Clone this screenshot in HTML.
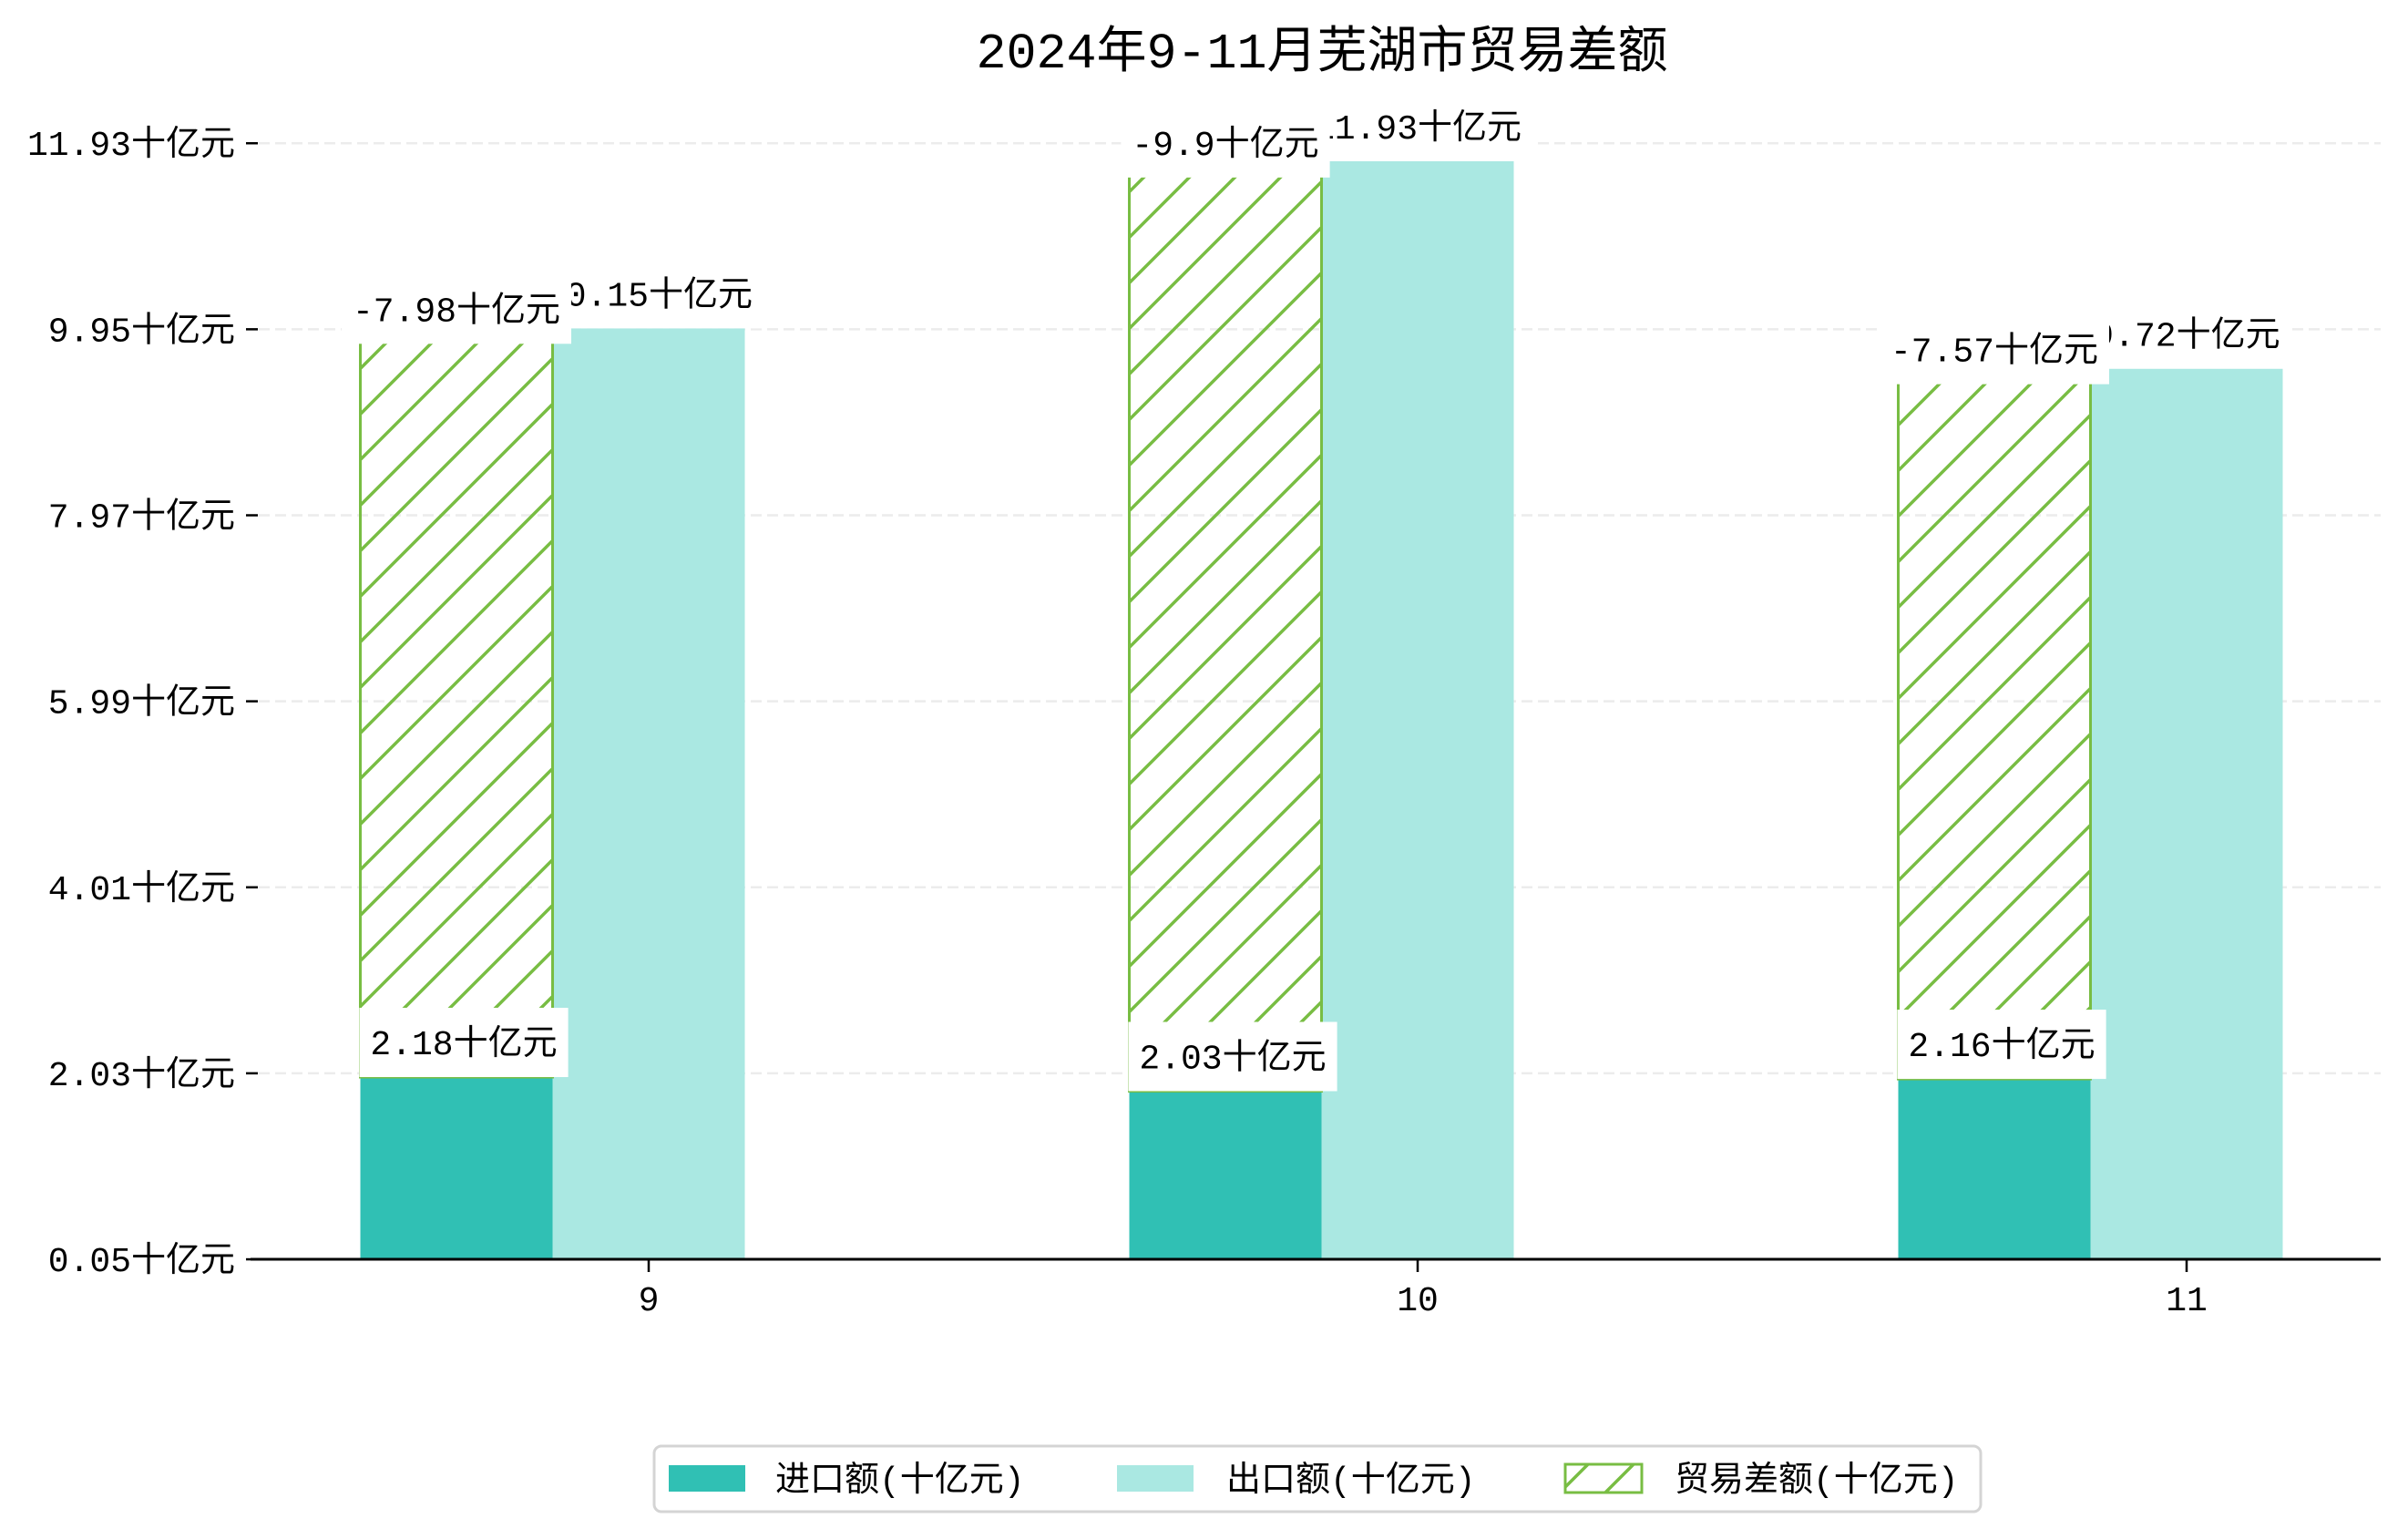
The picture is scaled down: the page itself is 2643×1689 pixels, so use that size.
<!DOCTYPE html>
<html><head><meta charset="utf-8">
<style>
html,body{margin:0;padding:0;background:#fff;}
svg{display:block;}
text{font-family:"Liberation Mono","Noto Sans CJK SC",monospace;fill:#000;}
</style></head>
<body>
<svg id="chart" width="2643" height="1689" viewBox="0 0 2643 1689" xmlns="http://www.w3.org/2000/svg">
<defs>
<pattern id="hatch" patternUnits="userSpaceOnUse" width="50" height="50">
<path d="M-5,55 L55,-5 M-30,30 L30,-30 M20,80 L80,20" stroke="#78bd43" stroke-width="3.5"/>
</pattern>
</defs>
<text x="1451" y="74" text-anchor="middle" font-size="55">2024年9-11月芜湖市贸易差额</text>
<g id="grid"></g>
<g id="bars"></g>
<g id="labels"></g>
<g id="axes"></g>
<g>
<rect x="718" y="1587" width="1456" height="72" rx="8" fill="#fff" stroke="#d4d4d4" stroke-width="3"/>
<rect x="734" y="1608" width="84" height="29" fill="#30c0b4"/>
<text x="851" y="1636" font-size="38">进口额(十亿元)</text>
<rect x="1226" y="1608" width="84" height="29" fill="#aae8e2"/>
<text x="1346" y="1636" font-size="38">出口额(十亿元)</text>
<rect x="1718" y="1607" width="84" height="31" fill="url(#hatch)" stroke="#78bd43" stroke-width="3"/>
<text x="1838" y="1636" font-size="38">贸易差额(十亿元)</text>
</g>
</svg>
<script>
const categories = ["9", "10", "11"];
const importValues = [2.18, 2.03, 2.16];
const exportValues = [10.15, 11.93, 9.72];
const balanceValues = [-7.98, -9.9, -7.57];
const tickValues = [0.24, 2.22, 4.20, 6.18, 8.16, 10.14, 12.12];
const tickLabels = ["0.05十亿元", "2.03十亿元", "4.01十亿元", "5.99十亿元", "7.97十亿元", "9.95十亿元", "11.93十亿元"];

const NS = "http://www.w3.org/2000/svg";
const axisY = 1382, axisL = 275, axisR = 2613;
function yScale(v){ return 1406.8 - 103.1 * v; }
function xScale(i){ return 712 + 844 * i; }
const barW = 211;
function mk(tag, attrs, parent){
  const e = document.createElementNS(NS, tag);
  for (const k in attrs) e.setAttribute(k, attrs[k]);
  parent.appendChild(e);
  return e;
}
const grid = document.getElementById('grid');
const bars = document.getElementById('bars');
const labels = document.getElementById('labels');
const axes = document.getElementById('axes');

tickValues.forEach((v, i) => {
  const y = yScale(v);
  const g = mk('line', {x1: 284, x2: axisR, y1: y, y2: y, stroke: '#ececec', 'stroke-width': 2.5, 'stroke-dasharray': '12,6'}, grid);
  
  
  const t = mk('line', {x1: 270, x2: 283, y1: y, y2: y, stroke: '#000', 'stroke-width': 2.5}, axes);
  
  
  const lb = mk('text', {x: 258, y: y + 13, 'text-anchor': 'end', 'font-size': 38}, axes);
  lb.textContent = tickLabels[i];
  
  
});

function boxLabel(text, cx, cy, name){
  const g = mk('g', {}, labels);
  
  
  const r = mk('rect', {fill: '#fff'}, g);
  const t = mk('text', {x: cx, y: cy + 13, 'text-anchor': 'middle', 'font-size': 38}, g);
  t.textContent = text;
  const w = t.getComputedTextLength();
  r.setAttribute('x', cx - w / 2 - 12);
  r.setAttribute('y', cy - 38);
  r.setAttribute('width', w + 24);
  r.setAttribute('height', 76);
}

categories.forEach((c, i) => {
  const xc = xScale(i);
  const xi = xc - barW * 1.5, xe = xc - barW / 2;
  const yi = yScale(importValues[i]);
  const ye = yScale(exportValues[i]);
  const ib = mk('rect', {x: xi, y: yi, width: barW, height: axisY - yi, fill: '#30c0b4'}, bars);
  
  
  const eb = mk('rect', {x: xe, y: ye, width: barW, height: axisY - ye, fill: '#aae8e2'}, bars);
  
  
  const yb = yScale(importValues[i] + Math.abs(balanceValues[i]));
  const bb = mk('rect', {x: xi, y: yb, width: barW, height: yi - yb, fill: 'url(#hatch)', stroke: '#78bd43', 'stroke-width': 3}, bars);
  
  

  boxLabel(exportValues[i] + '十亿元', xe + barW / 2, ye - 38, 'export-value-label-' + c);
  boxLabel(balanceValues[i] + '十亿元', xi + barW / 2, yb - 20, 'balance-value-label-' + c);
  boxLabel(importValues[i] + '十亿元', xi + barW / 2 + 8, yi - 38, 'import-value-label-' + c);

  const xt = mk('line', {x1: xc, x2: xc, y1: axisY, y2: axisY + 14, stroke: '#000', 'stroke-width': 2.5}, axes);
  
  
  const xl = mk('text', {x: xc, y: axisY + 56, 'text-anchor': 'middle', 'font-size': 38}, axes);
  xl.textContent = c;
  
  
});
const ax = mk('line', {x1: axisL, x2: axisR, y1: axisY, y2: axisY, stroke: '#000', 'stroke-width': 3}, axes);


</script>
</body></html>
